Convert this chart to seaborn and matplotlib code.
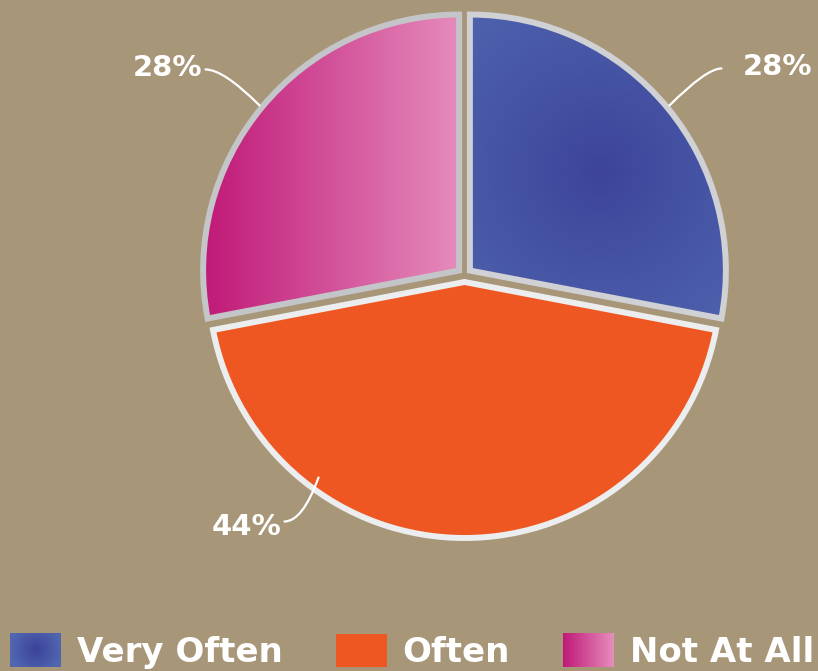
import numpy as np
import matplotlib
matplotlib.use("Agg")
import matplotlib.pyplot as plt
import matplotlib.patches as mpatches
from matplotlib.colors import to_rgb
import seaborn as sns

# data
labels = ["Very Often", "Often", "Not At All"]
shares = [28, 44, 28]
pct_text = ["28%", "44%", "28%"]

# colours
bg = "#A89679"
blue_dark, blue_light = "#3C4399", "#5066B0"
orange = "#EF5722"
pink_dark, pink_light = "#C01A78", "#E68DBD"
edge_cols = ["#D0D1D4", "#ECEDEE", "#C4C5C8"]

sns.set_theme(style="white", rc={"figure.facecolor": bg, "axes.facecolor": bg,
                                 "savefig.facecolor": bg})
plt.rcParams["font.family"] = ["DejaVu Sans"]

W, H = 818, 671
fig = plt.figure(figsize=(W / 100, H / 100), dpi=100)
ax = fig.add_axes([0, 0, 1, 1])
cx, cy, R = 464.5, 396, 256

# explode is in data units here (pixels), since radius is not 1
wedges, _ = ax.pie(shares, radius=R, center=(cx, cy), startangle=90, counterclock=False,
                   explode=[7, 7, 7], colors=[blue_light, orange, pink_light],
                   wedgeprops=dict(linewidth=0), frame=True)


def blend(c0, c1, t):
    c0, c1 = np.array(to_rgb(c0)), np.array(to_rgb(c1))
    return c0[None, None, :] * (1 - t[..., None]) + c1[None, None, :] * t[..., None]


# gradient fills clipped to the wedges
xs = np.arange(cx - R - 20, cx + R + 20)
ys = np.arange(cy - R - 20, cy + R + 20)
gx, gy = np.meshgrid(xs, ys)
ext = [xs[0], xs[-1], ys[0], ys[-1]]

t_blue = np.clip(np.hypot(gx - 600, gy - 501) / 230.0, 0, 1) ** 0.9
t_pink = np.clip((gx - 205) / (462 - 205), 0, 1)
for w, img in [(wedges[0], blend(blue_dark, blue_light, t_blue)),
               (wedges[2], blend(pink_dark, pink_light, t_pink))]:
    im = ax.imshow(img, extent=ext, origin="lower", zorder=2, interpolation="bilinear")
    im.set_clip_path(w)

# silver borders
for w, ec in zip(wedges, edge_cols):
    ax.add_patch(mpatches.Wedge(w.center, w.r, w.theta1, w.theta2, fill=False,
                                edgecolor=ec, linewidth=4.3, joinstyle="miter", zorder=3))

# leader lines + labels
anchor_frac = [0.5, 0.268, 0.5]
anchor_dr = [3, -12, 3]
offsets = [(52, 37), (-34, -44), (-54, 36)]
angles = [45, 70, -45]
text_dy = [4, -2, 4]
for w, frac, dr, off, angB, tdy, txt in zip(wedges, anchor_frac, anchor_dr, offsets,
                                            angles, text_dy, pct_text):
    a = np.deg2rad(w.theta1 + frac * (w.theta2 - w.theta1))
    px = w.center[0] + (w.r + dr) * np.cos(a)
    py = w.center[1] + (w.r + dr) * np.sin(a)
    ex, ey = px + off[0], py + off[1]
    ax.annotate("", xy=(px, py), xytext=(ex, ey),
                arrowprops=dict(arrowstyle="-", color="white", lw=1.6,
                                connectionstyle=f"angle3,angleA=0,angleB={angB}",
                                shrinkA=0, shrinkB=0), zorder=4)
    if off[0] > 0:
        ax.text(ex + 21, ey + tdy, txt, ha="left", va="center_baseline", color="white",
                fontsize=21, fontweight="bold")
    else:
        ax.text(ex - 3, ey + tdy, txt, ha="right", va="center_baseline", color="white",
                fontsize=21, fontweight="bold")

ax.set_xlim(0, W)
ax.set_ylim(0, H)
ax.set_aspect("equal")
ax.axis("off")

# legend
handles = [mpatches.Patch(facecolor=c, edgecolor="none") for c in [blue_light, orange, pink_light]]
leg = fig.legend(handles, labels, loc="lower left", bbox_to_anchor=(10 / W, 2 / H), ncol=3,
                 frameon=False, prop=dict(weight="bold", size=24.5), labelcolor="white",
                 handlelength=1.5, handleheight=1.15, handletextpad=0.47,
                 columnspacing=1.55, borderpad=0, borderaxespad=0)

fig.canvas.draw()
pb, _, pp = leg.get_patches()
for patch, kind in [(pb, "blue"), (pp, "pink")]:
    bb = patch.get_window_extent()
    w_, h_ = int(round(bb.width)), int(round(bb.height))
    lx, ly = np.meshgrid(np.arange(w_), np.arange(h_))
    if kind == "blue":
        t = np.clip(np.hypot(lx - w_ / 2, ly - h_ / 2) / (w_ / 2), 0, 1)
        arr = blend(blue_dark, blue_light, t)
    else:
        arr = blend(pink_dark, pink_light, lx / max(w_ - 1, 1))
    fig.figimage(arr, xo=int(round(bb.x0)), yo=int(round(bb.y0)), origin="lower", zorder=10)

fig.savefig("out.png", dpi=100)
